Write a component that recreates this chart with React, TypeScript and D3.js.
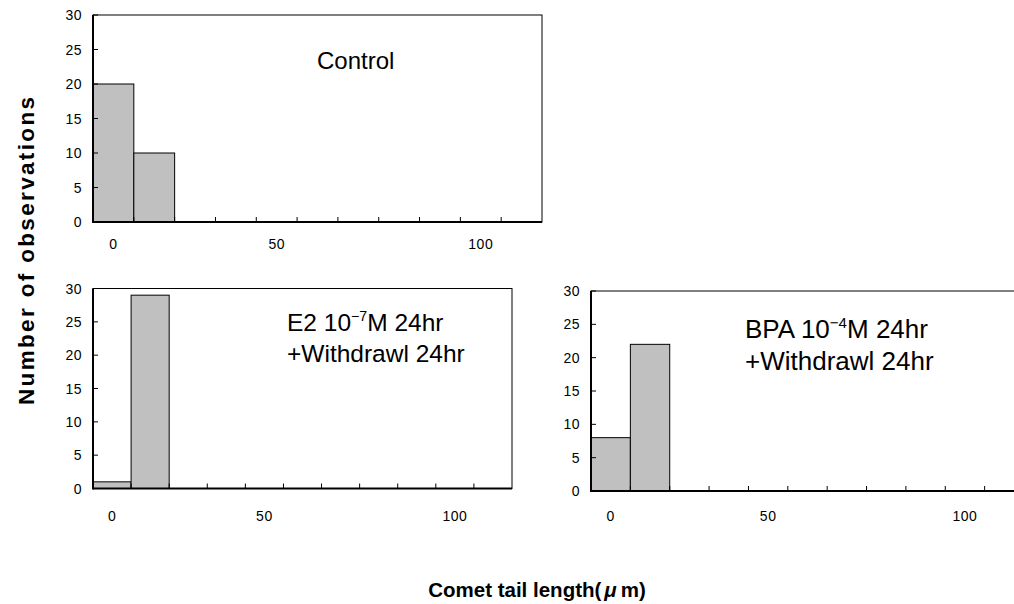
import React from "react";
import { scaleBand, scaleLinear } from "d3";

// histogram bins (Excel style category axis)
const binKeys = ["b0", "b1", "b2", "b3", "b4", "b5", "b6", "b7", "b8", "b9", "b10"];
const binLabels = ["0", "", "", "", "50", "", "", "", "", "100", ""];
const yTicks = [0, 5, 10, 15, 20, 25, 30];

const controlCounts = [20, 10, 0, 0, 0, 0, 0, 0, 0, 0, 0];
const e2Counts = [1, 29, 0, 0, 0, 0, 0, 0, 0, 0, 0];
const bpaCounts = [8, 22, 0, 0, 0, 0, 0, 0, 0, 0, 0];

const FONT = "'Liberation Sans', Arial, sans-serif";

type Panel = {
  counts: number[];
  left: number;
  right: number;
  top: number;
  bottom: number;
  labelDy: number;
  title: string[];
  sup?: string;
  titleX: number;
  titleY: number[];
  titleSize: number;
};

const panels: Panel[] = [
  {
    counts: controlCounts,
    left: 93, right: 542, top: 15, bottom: 222, labelDy: 27,
    title: ["Control"], titleX: 317, titleY: [69], titleSize: 24,
  },
  {
    counts: e2Counts,
    left: 93, right: 512, top: 288.5, bottom: 488.5, labelDy: 32,
    title: ["E2 10", "M 24hr", "+Withdrawl 24hr"], sup: "\u22127",
    titleX: 287, titleY: [331, 362], titleSize: 24.5,
  },
  {
    counts: bpaCounts,
    left: 591, right: 1024, top: 291, bottom: 491, labelDy: 30,
    title: ["BPA 10", "M 24hr", "+Withdrawl 24hr"], sup: "\u22124",
    titleX: 745, titleY: [338, 370], titleSize: 26,
  },
];

function Histogram({ p }: { p: Panel }) {
  const x = scaleBand<string>().domain(binKeys).range([p.left, p.right]).padding(0);
  const y = scaleLinear().domain([0, 30]).range([p.bottom, p.top]);
  const bw = x.bandwidth();

  return (
    <g>
      {/* plot frame */}
      <rect x={p.left} y={p.top} width={p.right - p.left} height={p.bottom - p.top}
        fill="none" stroke="#000" strokeWidth={1} />

      {/* bars */}
      {p.counts.map((c, i) =>
        c > 0 ? (
          <rect key={i} x={x(binKeys[i])} y={y(c)} width={bw} height={y(0) - y(c)}
            fill="#c0c0c0" stroke="#000" strokeWidth={1} />
        ) : null
      )}

      {/* x ticks at bin boundaries, pointing inside */}
      {binKeys.slice(1).map((k) => (
        <line key={k} x1={x(k)} x2={x(k)} y1={p.bottom} y2={p.bottom - 5} stroke="#000" strokeWidth={1} />
      ))}
      {binLabels.map((l, i) =>
        l ? (
          <text key={i} x={(x(binKeys[i]) as number) + bw / 2} y={p.bottom + p.labelDy}
            textAnchor="middle" fontSize={14} fontFamily={FONT} letterSpacing={0.5}>{l}</text>
        ) : null
      )}

      {/* y ticks */}
      {yTicks.map((t) => (
        <g key={t}>
          <line x1={p.left} x2={p.left + 5} y1={y(t)} y2={y(t)} stroke="#000" strokeWidth={1} />
          <text x={p.left - 11} y={y(t) + 5} textAnchor="end" fontSize={14} fontFamily={FONT}
            letterSpacing={0.5}>{t}</text>
        </g>
      ))}

      {/* axes */}
      <line x1={p.left} x2={p.right} y1={p.bottom} y2={p.bottom} stroke="#000" strokeWidth={2} />
      <line x1={p.left} x2={p.left} y1={p.top} y2={p.bottom + 1} stroke="#000" strokeWidth={2} />

      {/* title */}
      {p.sup ? (
        <g fontFamily={FONT} fontSize={p.titleSize}>
          <text x={p.titleX} y={p.titleY[0]}>
            {p.title[0]}
            <tspan fontSize={p.titleSize * 0.58} dy={-p.titleSize * 0.4}>{p.sup}</tspan>
            <tspan dy={p.titleSize * 0.4}>{p.title[1]}</tspan>
          </text>
          <text x={p.titleX} y={p.titleY[1]}>{p.title[2]}</text>
        </g>
      ) : (
        <text x={p.titleX} y={p.titleY[0]} fontFamily={FONT} fontSize={p.titleSize}>{p.title[0]}</text>
      )}
    </g>
  );
}

export default function App() {
  return (
    <svg width={1014} height={604} style={{ position: "absolute", left: 0, top: 0, background: "#fff" }}>
      <rect width={1014} height={604} fill="#fff" />
      {panels.map((p, i) => (
        <Histogram key={i} p={p} />
      ))}
      <text transform="translate(34,251) rotate(-90)" textAnchor="middle" fontFamily={FONT}
        fontWeight="bold" fontSize={22.5} textLength={308} lengthAdjust="spacing">
        Number of observations
      </text>
      <text x={537} y={597} textAnchor="middle" fontFamily={FONT} fontWeight="bold" fontSize={20.5}>
        Comet tail length(
        <tspan dx={3} fontStyle="italic">μ</tspan>
        <tspan dx={4}>m)</tspan>
      </text>
    </svg>
  );
}
